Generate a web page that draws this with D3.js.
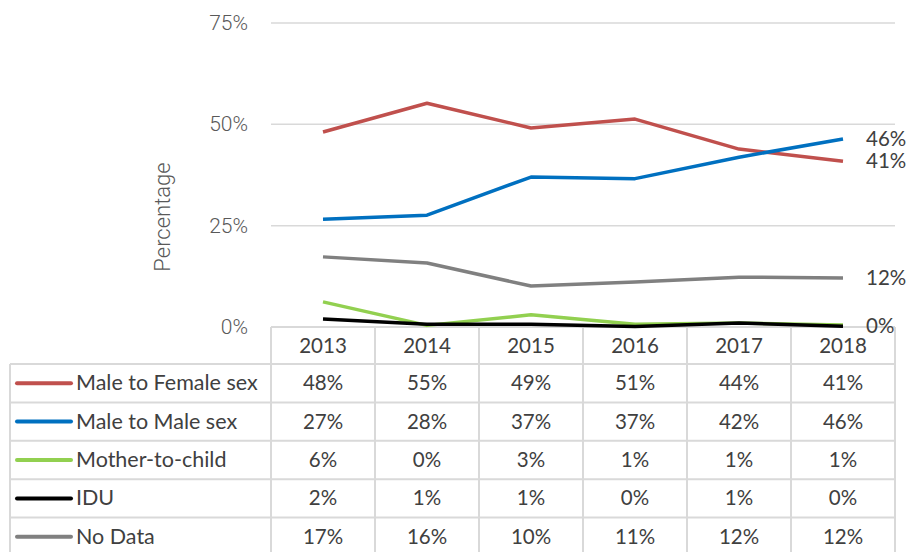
<html>
<head>
<script src="https://d3js.org/d3.v7.min.js"></script>
<style>
  body { margin: 0; background: white; }
  text { font-family: Lato, "Open Sans", sans-serif; fill: #404040; }
  .tick-label { font-family: Roboto, sans-serif; font-weight: 300; fill: #595959; }
</style>
</head>
<body>
<svg width="909" height="552"></svg>
<script>
var years = ["2013", "2014", "2015", "2016", "2017", "2018"];
var seriesNames = ["Male to Female sex", "Male to Male sex", "Mother-to-child", "IDU", "No Data"];
var colors = ["#C0504D", "#0070C0", "#92D050", "#000000", "#808080"];
// values (in %)
var maleFemale = [48.1, 55.2, 49.1, 51.3, 43.9, 40.9];
var maleMale = [26.6, 27.6, 37.0, 36.6, 41.9, 46.4];
var motherChild = [6.2, 0.4, 3.0, 0.7, 1.0, 0.5];
var idu = [2.0, 0.7, 0.7, 0.1, 1.0, 0.2];
var noData = [17.3, 15.8, 10.1, 11.1, 12.3, 12.1];
// table text
var tableLabels = [
  ["48%", "55%", "49%", "51%", "44%", "41%"],
  ["27%", "28%", "37%", "37%", "42%", "46%"],
  ["6%", "0%", "3%", "1%", "1%", "1%"],
  ["2%", "1%", "1%", "0%", "1%", "0%"],
  ["17%", "16%", "10%", "11%", "12%", "12%"]
];
var yTicks = [0, 25, 50, 75];
var endLabels = ["41%", "46%", null, "0%", "12%"];

var values = [maleFemale, maleMale, motherChild, idu, noData];
var svg = d3.select("svg");

var x = d3.scaleBand().domain(years).range([271, 895]);
var y = d3.scaleLinear().domain([0, 75]).range([327, 23]);
var rows = d3.scaleBand().domain(seriesNames).range([364, 556]);
var gridColor = "#d9d9d9";

// gridlines
svg.append("g").selectAll("line").data(yTicks.filter(d => d > 0)).enter()
  .append("line")
  .attr("x1", 271).attr("x2", 895)
  .attr("y1", d => y(d)).attr("y2", d => y(d))
  .attr("stroke", gridColor).attr("stroke-width", 1.5);

// y tick labels
svg.append("g").selectAll("text").data(yTicks).enter()
  .append("text")
  .attr("class", "tick-label")
  .attr("x", 248)
  .attr("y", d => y(d) + 7)
  .attr("text-anchor", "end")
  .style("font-size", "21px")
  .text(d => d + "%");

svg.append("text")
  .attr("class", "tick-label")
  .attr("transform", "translate(170,217) rotate(-90)")
  .attr("text-anchor", "middle")
  .style("font-size", "22px")
  .text("Percentage");

// table grid
var tg = svg.append("g").attr("stroke", gridColor).attr("stroke-width", 2);
tg.append("line").attr("x1", 271).attr("x2", 895).attr("y1", 327).attr("y2", 327);
tg.selectAll(".hl").data(seriesNames).enter().append("line")
  .attr("x1", 10).attr("x2", 895)
  .attr("y1", d => rows(d)).attr("y2", d => rows(d));
tg.append("line").attr("x1", 10).attr("x2", 10).attr("y1", 364).attr("y2", 556);
tg.selectAll(".vl").data(years.concat(["end"])).enter().append("line")
  .attr("x1", (d, i) => i < years.length ? x(d) : x(years[5]) + x.bandwidth())
  .attr("x2", (d, i) => i < years.length ? x(d) : x(years[5]) + x.bandwidth())
  .attr("y1", 327).attr("y2", 556);

// header
svg.append("g").selectAll("text").data(years).enter()
  .append("text")
  .attr("x", d => x(d) + x.bandwidth() / 2)
  .attr("y", 353)
  .attr("text-anchor", "middle")
  .style("font-size", "20.5px")
  .text(d => d);

// rows
seriesNames.forEach(function (name, si) {
  var cy = rows(name) + rows.bandwidth() / 2;
  svg.append("line")
    .attr("x1", 17).attr("x2", 71).attr("y1", cy).attr("y2", cy)
    .attr("stroke", colors[si]).attr("stroke-width", 4).attr("stroke-linecap", "round");
  svg.append("text")
    .attr("x", 76).attr("y", cy + 7)
    .style("font-size", "21.5px")
    .text(name);
  svg.append("g").selectAll("text").data(tableLabels[si]).enter()
    .append("text")
    .attr("x", (d, i) => x(years[i]) + x.bandwidth() / 2)
    .attr("y", cy + 7)
    .attr("text-anchor", "middle")
    .style("font-size", "20.5px")
    .text(d => d);
});

// lines
var line = d3.line()
  .x((d, i) => x(years[i]) + x.bandwidth() / 2)
  .y(d => y(d));
values.forEach(function (v, si) {
  svg.append("path")
    .attr("d", line(v))
    .attr("fill", "none")
    .attr("stroke", colors[si])
    .attr("stroke-width", 3.5)
    .attr("stroke-linejoin", "round");
});

// end labels
values.forEach(function (v, si) {
  if (!endLabels[si]) return;
  svg.append("text")
    .attr("x", 866)
    .attr("y", y(v[5]) + 7)
    .style("font-size", "20.5px")
    .text(endLabels[si]);
});
</script>
</body>
</html>
